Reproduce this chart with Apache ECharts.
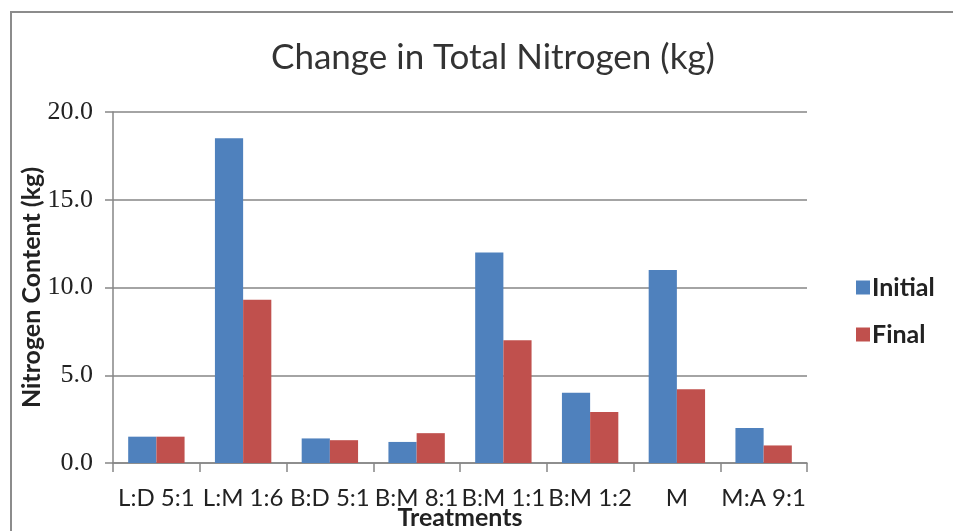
<!DOCTYPE html>
<html>
<head>
<meta charset="utf-8">
<script src="https://cdn.jsdelivr.net/npm/echarts@6/dist/echarts.min.js"></script>
<style>
  html, body { margin: 0; padding: 0; background: #fff; }
  #frame { position: absolute; left: 10px; top: 11px; width: 960px; height: 540px;
           border-left: 2px solid #8c8c8c; border-top: 2px solid #8c8c8c; }
  #chart { position: absolute; left: 0; top: 0; width: 953px; height: 531px; }
</style>
</head>
<body>
<div id="frame"></div>
<div id="chart"></div>
<script>
// 数据
const categories = ['L:D 5:1', 'L:M 1:6', 'B:D 5:1', 'B:M 8:1', 'B:M 1:1', 'B:M 1:2', 'M', 'M:A 9:1']
const initialValues = [1.5, 18.5, 1.4, 1.2, 12.0, 4.0, 11.0, 2.0]
const finalValues = [1.5, 9.3, 1.3, 1.7, 7.0, 2.9, 4.2, 1.0]
const yTicks = [0, 5, 10, 15, 20]

const chart = echarts.init(document.getElementById('chart'))
const axisGray = '#868686'

const option = {
  animation: false,
  title: {
    text: 'Change in Total Nitrogen (kg)',
    left: 488,
    top: 35,
    textAlign: 'center',
    textStyle: { fontFamily: 'Lato', fontSize: 35, fontWeight: 'normal', color: '#333' }
  },
  legend: {
    orient: 'vertical',
    left: 851,
    top: 270,
    itemWidth: 14,
    itemHeight: 14,
    itemGap: 22,
    icon: 'rect',
    textStyle: { fontFamily: 'Lato', fontSize: 25, fontWeight: 'bold', color: '#222', padding: [0, 0, 0, -3] },
    data: ['Initial', 'Final']
  },
  grid: { left: 113, right: 146, top: 112, bottom: 68, containLabel: false, outerBoundsMode: 'none' },
  xAxis: {
    type: 'category',
    data: categories,
    name: 'Treatments',
    nameLocation: 'middle',
    nameGap: 42,
    nameMoveOverlap: false,
    nameTextStyle: { fontFamily: 'Lato', fontSize: 25, fontWeight: 'bold', color: '#222', verticalAlign: 'top' },
    axisLine: { lineStyle: { color: axisGray, width: 1.5 } },
    axisTick: { show: true, length: 9, lineStyle: { color: axisGray, width: 1.5 } },
    axisLabel: { interval: 0, margin: 23, fontFamily: 'Lato', fontSize: 24, color: '#222', hideOverlap: false }
  },
  yAxis: {
    type: 'value',
    min: 0,
    max: 20,
    interval: 5,
    name: 'Nitrogen Content (kg)',
    nameLocation: 'middle',
    nameGap: 69,
    nameMoveOverlap: false,
    nameTextStyle: { fontFamily: 'Lato', fontSize: 25, fontWeight: 'bold', color: '#222' },
    axisLine: { show: true, lineStyle: { color: axisGray, width: 1.5 } },
    axisTick: { show: true, length: 8, lineStyle: { color: axisGray, width: 1.5 } },
    splitLine: { lineStyle: { color: axisGray, width: 1.5 } },
    axisLabel: {
      margin: 20,
      fontFamily: 'Liberation Serif',
      fontSize: 26,
      color: '#222',
      formatter: v => yTicks.includes(v) ? v.toFixed(1) : ''
    }
  },
  series: [
    {
      name: 'Initial',
      type: 'bar',
      data: initialValues,
      barGap: '0%',
      barCategoryGap: '35%',
      itemStyle: { color: '#4F81BD' }
    },
    {
      name: 'Final',
      type: 'bar',
      data: finalValues,
      itemStyle: { color: '#C0504D' }
    }
  ]
}

chart.setOption(option)
</script>
</body>
</html>
